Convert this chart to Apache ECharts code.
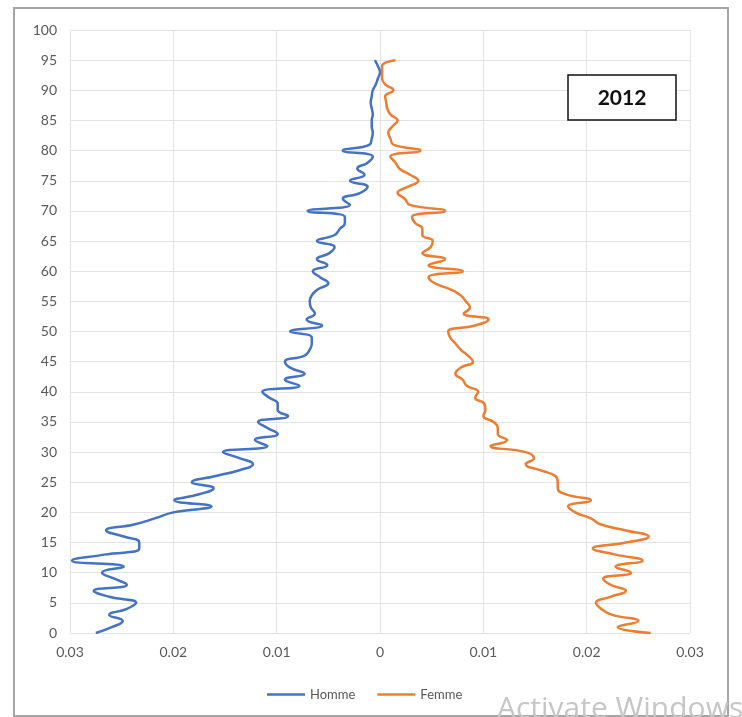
<!DOCTYPE html>
<html>
<head>
<meta charset="utf-8">
<script src="https://cdn.jsdelivr.net/npm/echarts@6/dist/echarts.min.js"></script>
<style>
  html, body { margin: 0; padding: 0; background: #fff; }
  #chart { width: 742px; height: 717px; }
</style>
</head>
<body>
<div id="chart"></div>
<script>
// ages 0..95
var ages = []
for (var a = 0; a <= 95; a++) ages.push(a)

// share of population by age (magnitudes)
var homme = [
  0.0275, 0.0259, 0.0249, 0.0262, 0.0245, 0.0236, 0.0262, 0.0277, 0.0245, 0.0257,
  0.0269, 0.0248, 0.0298, 0.0267, 0.0233, 0.0233, 0.0248, 0.0265, 0.0238, 0.0218,
  0.0200, 0.0163, 0.0199, 0.0175, 0.0161, 0.0182, 0.0160, 0.0136, 0.0123, 0.0136,
  0.0152, 0.0109, 0.0121, 0.0099, 0.0109, 0.0118, 0.0089, 0.0099, 0.0099, 0.0107,
  0.0114, 0.0078, 0.0092, 0.0073, 0.0087, 0.0092, 0.0073, 0.0068, 0.0066, 0.0066,
  0.0087, 0.0056, 0.0071, 0.0063, 0.0067, 0.0068, 0.0066, 0.0060, 0.0050, 0.0058,
  0.0065, 0.0051, 0.0061, 0.0049, 0.0044, 0.0061, 0.0044, 0.0039, 0.0034, 0.0034,
  0.0070, 0.0029, 0.0036, 0.0019, 0.0012, 0.0029, 0.0015, 0.0022, 0.0012, 0.0007,
  0.0036, 0.0010, 0.0008, 0.0007, 0.0008, 0.0008, 0.0007, 0.0008, 0.0009, 0.0008,
  0.0007, 0.0004, 0.0002, 0.0000, 0.0002, 0.0005
]
var femme = [
  0.0262, 0.0230, 0.0250, 0.0225, 0.0214, 0.0209, 0.0223, 0.0238, 0.0223, 0.0216,
  0.0243, 0.0228, 0.0254, 0.0228, 0.0206, 0.0238, 0.0260, 0.0238, 0.0214, 0.0204,
  0.0189, 0.0182, 0.0204, 0.0180, 0.0172, 0.0172, 0.0170, 0.0155, 0.0141, 0.0149,
  0.0141, 0.0107, 0.0123, 0.0114, 0.0114, 0.0110, 0.0100, 0.0102, 0.0101, 0.0092,
  0.0095, 0.0084, 0.0080, 0.0073, 0.0078, 0.0090, 0.0085, 0.0078, 0.0073, 0.0068,
  0.0066, 0.0092, 0.0105, 0.0081, 0.0087, 0.0083, 0.0078, 0.0068, 0.0053, 0.0047,
  0.0080, 0.0047, 0.0063, 0.0041, 0.0049, 0.0051, 0.0041, 0.0041, 0.0034, 0.0031,
  0.0063, 0.0029, 0.0024, 0.0017, 0.0027, 0.0037, 0.0029, 0.0019, 0.0015, 0.0010,
  0.0039, 0.0013, 0.0010, 0.0008, 0.0012, 0.0017, 0.0010, 0.0007, 0.0006, 0.0005,
  0.0013, 0.0005, 0.0002, 0.0002, 0.0002, 0.0015
]

var labelFont = 'Lato, "Open Sans", sans-serif'

var myChart = echarts.init(document.getElementById('chart'))

myChart.setOption({
  backgroundColor: '#fff',
  animation: false,
  grid: { left: 70, right: 52, top: 30, bottom: 84 },
  legend: {
    top: 683,
    left: 262,
    icon: 'rect',
    itemWidth: 38,
    itemHeight: 2.5,
    itemGap: 22,
    textStyle: { color: '#595959', fontSize: 13, fontFamily: labelFont },
    data: ['Homme', 'Femme']
  },
  xAxis: {
    type: 'value',
    min: -0.03,
    max: 0.03,
    interval: 0.01,
    axisLine: { show: false },
    axisTick: { show: false },
    splitLine: { lineStyle: { color: '#e3e3e3', width: 1 } },
    axisLabel: {
      color: '#595959',
      fontSize: 14,
      fontFamily: labelFont,
      margin: 12,
      formatter: function(v) {
        var r = Math.round(Math.abs(v) * 100) / 100
        return r === 0 ? '0' : String(r)
      }
    }
  },
  yAxis: {
    type: 'value',
    min: 0,
    max: 100,
    interval: 5,
    axisLine: { show: false },
    axisTick: { show: false },
    splitLine: { lineStyle: { color: '#e3e3e3', width: 1 } },
    axisLabel: { color: '#595959', fontSize: 14, fontFamily: labelFont, margin: 13 }
  },
  series: [
    {
      name: 'Homme',
      type: 'line',
      smooth: 0.5,
      showSymbol: false,
      color: '#4472C4',
      lineStyle: { width: 2.5 },
      data: ages.map(function(a, i) { return [-homme[i], a] })
    },
    {
      name: 'Femme',
      type: 'line',
      smooth: 0.5,
      showSymbol: false,
      color: '#ED7D31',
      lineStyle: { width: 2.5 },
      data: ages.map(function(a, i) { return [femme[i], a] })
    }
  ],
  graphic: [
    {
      type: 'rect',
      shape: { x: 14, y: 8, width: 714, height: 708 },
      style: { fill: null, stroke: '#a6a6a6', lineWidth: 2 },
      silent: true
    },
    {
      type: 'rect',
      shape: { x: 568, y: 75, width: 108, height: 45 },
      style: { fill: '#fff', stroke: '#111', lineWidth: 1.5 },
      z: 10
    },
    {
      type: 'text',
      x: 622,
      y: 98,
      style: {
        text: '2012',
        fill: '#111',
        font: 'bold 21px Lato, "Open Sans", sans-serif',
        textAlign: 'center',
        textVerticalAlign: 'middle'
      },
      z: 11
    },
    {
      type: 'text',
      x: 497,
      y: 694,
      style: {
        text: 'Activate Windows',
        fill: '#c6c6c6',
        font: '30px "Open Sans", sans-serif'
      },
      z: 12
    }
  ]
})
</script>
</body>
</html>
